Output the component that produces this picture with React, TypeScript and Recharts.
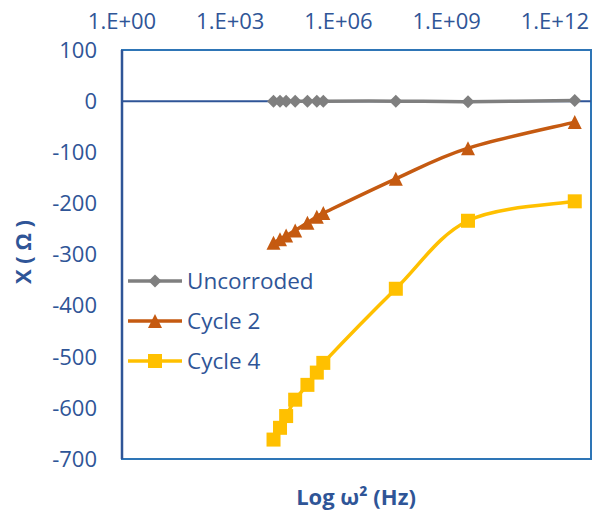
import React from 'react';
import { LineChart, Line, XAxis, YAxis, ReferenceLine, ReferenceArea } from 'recharts';

// log10(ω²) positions of the measurements
const xExp = [4.2, 4.38, 4.55, 4.8, 5.14, 5.4, 5.58, 7.59, 9.59, 12.55];
const uncorroded = [0, 0, 0, 0, 0, 0, 0, 0, -1, 1];
const cycle2 = [-277, -270, -263, -253, -238, -226, -219, -152, -92, -41];
const cycle4 = [-662, -639, -616, -584, -555, -531, -512, -367, -234, -196];

const xTicks = [0, 3, 6, 9, 12];
const yTicks = [100, 0, -100, -200, -300, -400, -500, -600, -700];

const data = xExp.map((x, i) => ({ x, u: uncorroded[i], c2: cycle2[i], c4: cycle4[i] }));

const BLUE = '#2F5597';
const GRAY = '#7F7F7F';
const ORANGE = '#C55A11';
const YELLOW = '#FFC000';
const FONT = 'Open Sans';

const fmtX = (v: number) => `1.E+${String(v).padStart(2, '0')}`;

// Excel-like smoothing (uniform Catmull-Rom as cubic Bezier)
const excelSmooth = (context: any) => {
  let pts: [number, number][] = [];
  return {
    areaStart() {},
    areaEnd() {},
    lineStart() { pts = []; },
    point(x: number, y: number) { pts.push([+x, +y]); },
    lineEnd() {
      const n = pts.length;
      if (!n) return;
      context.moveTo(pts[0][0], pts[0][1]);
      for (let i = 0; i < n - 1; i++) {
        const p0 = pts[i - 1] || pts[i];
        const p1 = pts[i];
        const p2 = pts[i + 1];
        const p3 = pts[i + 2] || pts[i + 1];
        const c1x = p1[0] + (p2[0] - p0[0]) / 6;
        const c1y = p1[1] + (p2[1] - p0[1]) / 6;
        const c2x = p2[0] - (p3[0] - p1[0]) / 6;
        const c2y = p2[1] - (p3[1] - p1[1]) / 6;
        context.bezierCurveTo(c1x, c1y, c2x, c2y, p2[0], p2[1]);
      }
    },
  };
};

const Diamond = (props: any) => {
  const { cx, cy, fill, index } = props;
  if (cx == null || cy == null) return <g key={index} />;
  const r = 6.5;
  return <polygon key={index} points={`${cx},${cy - r} ${cx + r},${cy} ${cx},${cy + r} ${cx - r},${cy}`} fill={fill} />;
};
const Triangle = (props: any) => {
  const { cx, cy, fill, index } = props;
  if (cx == null || cy == null) return <g key={index} />;
  const r = 7;
  return <polygon key={index} points={`${cx},${cy - r} ${cx + r},${cy + r} ${cx - r},${cy + r}`} fill={fill} />;
};
const Square = (props: any) => {
  const { cx, cy, fill, index } = props;
  if (cx == null || cy == null) return <g key={index} />;
  const r = 7;
  return <rect key={index} x={cx - r} y={cy - r} width={2 * r} height={2 * r} fill={fill} />;
};

const legendItems = [
  { name: 'Uncorroded', color: GRAY, shape: 'diamond' },
  { name: 'Cycle 2', color: ORANGE, shape: 'triangle' },
  { name: 'Cycle 4', color: YELLOW, shape: 'square' },
];

const LegendContent = () => (
  <div>
    {legendItems.map((it) => (
      <div key={it.name} style={{ display: 'flex', alignItems: 'center', height: 40 }}>
        <svg width={56} height={20} style={{ display: 'block' }}>
          <line x1={1} y1={10} x2={55} y2={10} stroke={it.color} strokeWidth={3.5} />
          {it.shape === 'diamond' && <Diamond cx={28} cy={10} fill={it.color} index={0} />}
          {it.shape === 'triangle' && <Triangle cx={28} cy={10} fill={it.color} index={0} />}
          {it.shape === 'square' && <Square cx={28} cy={10} fill={it.color} index={0} />}
        </svg>
        <span style={{ marginLeft: 4, color: BLUE, fontFamily: FONT, fontSize: 22.5, lineHeight: '40px' }}>{it.name}</span>
      </div>
    ))}
  </div>
);

export default function App() {
  return (
    <div style={{ position: 'absolute', left: 0, top: 0, width: 603, height: 512, background: '#fff' }}>
      <LineChart width={603} height={512} data={data} margin={{ top: 20, right: 12, bottom: 53, left: 0 }}>
        <XAxis
          dataKey="x"
          type="number"
          domain={[0, 13]}
          ticks={xTicks}
          orientation="top"
          height={30}
          axisLine={false}
          tickLine={false}
          tickSize={0}
          tickMargin={21}
          tickFormatter={fmtX}
          tick={{ fill: BLUE, fontSize: 22, fontFamily: FONT }}
          interval={0}
          allowDataOverflow
        />
        <YAxis
          type="number"
          domain={[-700, 100]}
          ticks={yTicks}
          width={122}
          axisLine={{ stroke: BLUE, strokeWidth: 2.5 }}
          tickLine={false}
          tickSize={0}
          tickMargin={25}
          tick={{ fill: BLUE, fontSize: 22, fontFamily: FONT }}
          interval={0}
        />
        <ReferenceArea x1={0} x2={13} y1={-700} y2={100} fill="#fff" fillOpacity={0} stroke="#2E75B6" strokeWidth={2} />
        <ReferenceLine y={0} stroke={BLUE} strokeWidth={2} />
        <Line type={excelSmooth as any} dataKey="u" name="Uncorroded" stroke={GRAY} strokeWidth={3.5} dot={<Diamond fill={GRAY} />} isAnimationActive={false} />
        <Line type={excelSmooth as any} dataKey="c2" name="Cycle 2" stroke={ORANGE} strokeWidth={3.5} dot={<Triangle fill={ORANGE} />} isAnimationActive={false} />
        <Line type={excelSmooth as any} dataKey="c4" name="Cycle 4" stroke={YELLOW} strokeWidth={3.5} dot={<Square fill={YELLOW} />} isAnimationActive={false} />
      </LineChart>
      <div style={{ position: 'absolute', left: 127, top: 261, width: 220 }}>
        <LegendContent />
      </div>
      <div
        style={{
          position: 'absolute', left: 22, top: 252, transform: 'translate(-50%, -50%) rotate(-90deg)',
          color: BLUE, fontFamily: FONT, fontWeight: 700, fontSize: 22, whiteSpace: 'nowrap',
        }}
      >
        X ( Ω )
      </div>
      <div
        style={{
          position: 'absolute', left: 356, top: 496, transform: 'translate(-50%, -50%)',
          color: BLUE, fontFamily: FONT, fontWeight: 700, fontSize: 22, whiteSpace: 'nowrap',
        }}
      >
        Log ω² (Hz)
      </div>
    </div>
  );
}
